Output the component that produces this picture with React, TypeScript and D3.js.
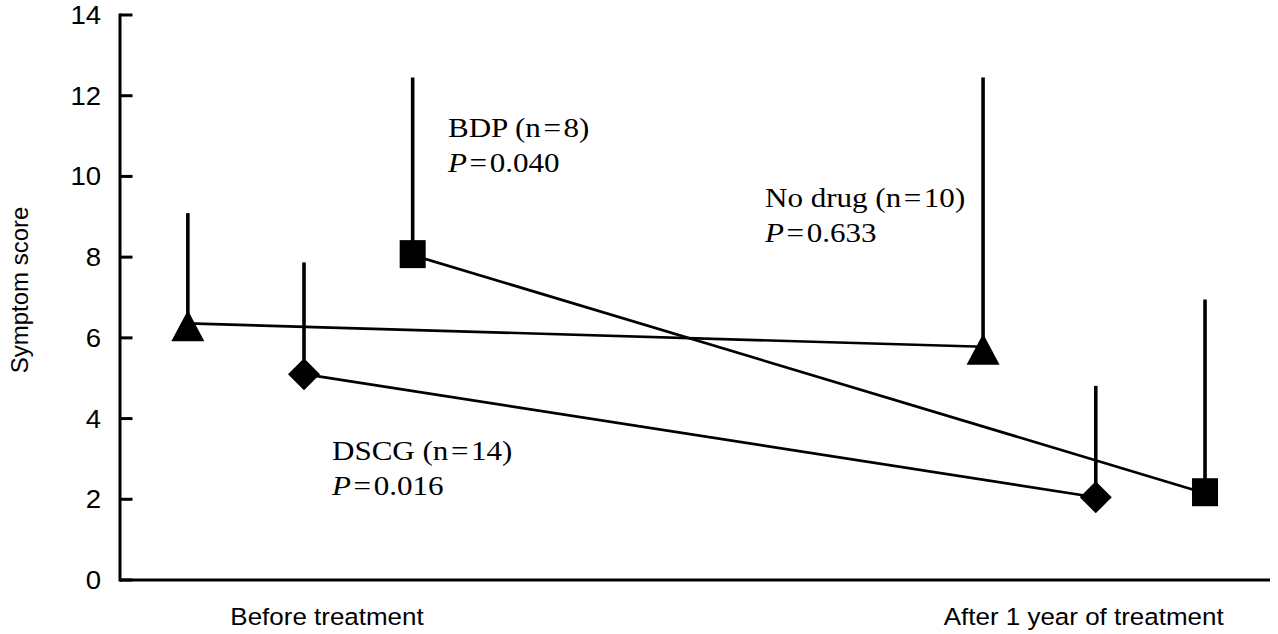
import React from "react";
import * as d3 from "d3";

// ---- data ----
const yTicks = [0, 2, 4, 6, 8, 10, 12, 14];
const timeLabels = ["Before treatment", "After 1 year of treatment"];
const timeLabelX = [18.0, 83.8];
const seriesNames = ["No drug", "DSCG", "BDP"];
const seriesN = [10, 14, 8];
const seriesP = ["0.633", "0.016", "0.040"];
const xBefore = [5.9, 16.0, 25.45];
const xAfter = [75.05, 84.85, 94.35];
const meanBefore = [6.36, 5.1, 8.05];
const meanAfter = [5.78, 2.05, 2.15];
const upperBefore = [9.09, 7.87, 12.45];
const upperAfter = [12.45, 4.81, 6.95];
const markerShapes = ["triangle", "diamond", "square"];

// ---- layout ----
const W = 1278;
const H = 634;
const X0 = 120;
const X1 = 1270;
const Y0 = 580;
const Y1 = 15;
const labelPos: [number, number][] = [
  [765, 207],
  [332, 460],
  [448, 137],
];
const SANS = "'Liberation Sans', Arial, Helvetica, sans-serif";
const SERIF = "'Liberation Serif', 'Times New Roman', Times, serif";
const HS = "\u200A";

const x = d3.scaleLinear().domain([0, 100]).range([X0, X1]);
const y = d3.scaleLinear().domain([0, 14]).range([Y0, Y1]);

function Marker({ shape, cx, cy }: { shape: string; cx: number; cy: number }) {
  if (shape === "triangle") {
    const p = d3.path();
    p.moveTo(cx, cy - 13);
    p.lineTo(cx + 16.5, cy + 18);
    p.lineTo(cx - 16.5, cy + 18);
    p.closePath();
    return <path d={p.toString()} fill="#000" />;
  }
  if (shape === "diamond") {
    const p = d3.path();
    p.moveTo(cx, cy - 16);
    p.lineTo(cx + 16, cy);
    p.lineTo(cx, cy + 16);
    p.lineTo(cx - 16, cy);
    p.closePath();
    return <path d={p.toString()} fill="#000" />;
  }
  return <rect x={cx - 13} y={cy - 15} width={26} height={28} fill="#000" />;
}

export default function App() {
  const line = d3
    .line<[number, number]>()
    .x((d) => x(d[0]))
    .y((d) => y(d[1]));

  return (
    <svg
      width={W}
      height={H}
      viewBox={`0 0 ${W} ${H}`}
      style={{ position: "absolute", left: 0, top: 0, background: "#fff" }}
    >
      <rect width={W} height={H} fill="#fff" />
      {/* axes */}
      <line x1={X0} x2={X0} y1={Y1 - 1.5} y2={Y0 + 1.5} stroke="#000" strokeWidth={3} />
      <line x1={X0} x2={X1} y1={Y0} y2={Y0} stroke="#000" strokeWidth={3} />
      {yTicks.map((t) => (
        <g key={t}>
          <line x1={X0} x2={X0 + 12.5} y1={y(t)} y2={y(t)} stroke="#000" strokeWidth={3} />
          <text
            transform={`translate(101,${y(t) + 9}) scale(1.08,1)`}
            textAnchor="end"
            fontFamily={SANS}
            fontSize={25.5}
            fill="#000"
          >
            {t}
          </text>
        </g>
      ))}
      {timeLabels.map((l, i) => (
        <text
          key={l}
          transform={`translate(${x(timeLabelX[i])},625) scale(1.06,1)`}
          textAnchor="middle"
          fontFamily={SANS}
          fontSize={24.5}
          fill="#000"
        >
          {l}
        </text>
      ))}
      <text
        transform="translate(28,290) rotate(-90)"
        textAnchor="middle"
        fontFamily={SANS}
        fontSize={24}
        fill="#000"
      >
        Symptom score
      </text>

      {/* connecting lines */}
      {seriesNames.map((s, i) => (
        <path
          key={"l" + s}
          d={
            line([
              [xBefore[i], meanBefore[i]],
              [xAfter[i], meanAfter[i]],
            ]) || ""
          }
          fill="none"
          stroke="#000"
          strokeWidth={2.7}
        />
      ))}
      {/* error bars (upper only) */}
      {seriesNames.map((s, i) => (
        <g key={"e" + s}>
          <line
            x1={x(xBefore[i])}
            x2={x(xBefore[i])}
            y1={y(meanBefore[i])}
            y2={y(upperBefore[i])}
            stroke="#000"
            strokeWidth={3.6}
          />
          <line
            x1={x(xAfter[i])}
            x2={x(xAfter[i])}
            y1={y(meanAfter[i])}
            y2={y(upperAfter[i])}
            stroke="#000"
            strokeWidth={3.6}
          />
        </g>
      ))}
      {/* markers */}
      {seriesNames.map((s, i) => (
        <g key={"m" + s}>
          <Marker shape={markerShapes[i]} cx={x(xBefore[i])} cy={y(meanBefore[i])} />
          <Marker shape={markerShapes[i]} cx={x(xAfter[i])} cy={y(meanAfter[i])} />
        </g>
      ))}
      {/* annotations */}
      {seriesNames.map((s, i) => (
        <g key={"a" + s} fontFamily={SERIF} fontSize={27} fill="#000">
          <text transform={`translate(${labelPos[i][0]},${labelPos[i][1]}) scale(1.15,1)`}>
            {`${s} (n${HS}=${HS}${seriesN[i]})`}
          </text>
          <text transform={`translate(${labelPos[i][0]},${labelPos[i][1] + 35}) scale(1.15,1)`}>
            <tspan fontStyle="italic">P</tspan>
            <tspan>{`${HS}=${HS}${seriesP[i]}`}</tspan>
          </text>
        </g>
      ))}
    </svg>
  );
}
